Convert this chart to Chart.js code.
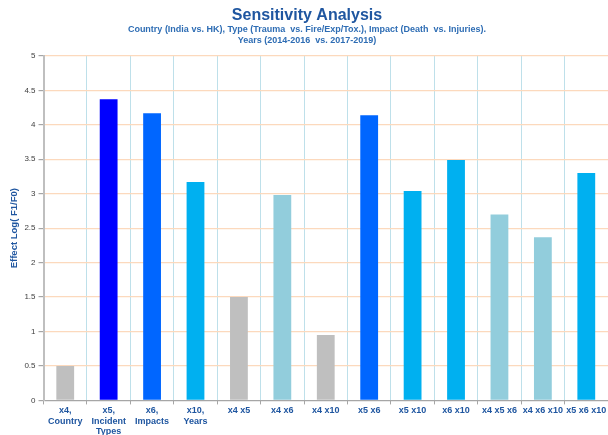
<!DOCTYPE html>
<html>
<head>
<meta charset="utf-8">
<script src="https://cdn.jsdelivr.net/npm/chart.js@4"></script>
<style>
  html, body { margin: 0; padding: 0; background: #fff; overflow: hidden; }
  #wrap { width: 608px; height: 435px; }
</style>
</head>
<body>
<div id="wrap"><canvas id="barchart" width="608" height="435"></canvas></div>
<script>
// categories (multi-line labels)
const categories = [
  ['x4,', 'Country'], ['x5,', 'Incident', 'Types'], ['x6,', 'Impacts'], ['x10,', 'Years'],
  'x4 x5', 'x4 x6', 'x4 x10', 'x5 x6', 'x5 x10', 'x6 x10', 'x4 x5 x6', 'x4 x6 x10', 'x5 x6 x10'
];
// effect values
const effects = [0.5, 4.37, 4.17, 3.17, 1.5, 2.98, 0.95, 4.14, 3.04, 3.49, 2.70, 2.37, 3.30];
const barColors = [
  '#BFBFBF', '#0000FF', '#0066FF', '#00B0F0',
  '#BFBFBF', '#92CDDC', '#BFBFBF', '#0066FF',
  '#00B0F0', '#00B0F0', '#92CDDC', '#92CDDC', '#00B0F0'
];

const ctx = document.getElementById('barchart').getContext('2d');

new Chart(ctx, {
  type: 'bar',
  data: {
    labels: categories,
    datasets: [{
      label: 'Effect',
      data: effects,
      backgroundColor: barColors,
      borderWidth: 0,
      categoryPercentage: 1,
      barPercentage: 0.41
    }]
  },
  options: {
    responsive: false,
    animation: false,
    layout: { padding: { left: 3, right: -3, top: 8, bottom: -3 } },
    plugins: {
      legend: { display: false },
      tooltip: { enabled: false },
      title: {
        display: true,
        text: 'Sensitivity Analysis',
        color: '#1F56A0',
        font: { family: 'Liberation Sans', size: 16, weight: 'bold', lineHeight: 1.0 },
        padding: { top: 0, bottom: 0 }
      },
      subtitle: {
        display: true,
        text: ['Country (India vs. HK), Type (Trauma  vs. Fire/Exp/Tox.), Impact (Death  vs. Injuries).',
               'Years (2014-2016  vs. 2017-2019)'],
        color: '#2E6DB4',
        font: { family: 'Liberation Sans', size: 9, weight: 'bold', lineHeight: 1.22 },
        padding: { top: 0, bottom: 10 }
      }
    },
    scales: {
      x: {
        offset: true,
        grid: {
          offset: true,
          color: '#BEE0EA',
          lineWidth: 1,
          drawTicks: true,
          tickLength: 4,
          tickColor: '#A6A6A6'
        },
        border: { color: '#A6A6A6', width: 1 },
        ticks: {
          color: '#1F56A0',
          font: { family: 'Liberation Sans', size: 9, weight: 'bold', lineHeight: 1.17 },
          padding: 1,
          maxRotation: 0,
          autoSkip: false
        }
      },
      y: {
        min: 0,
        max: 5,
        grid: {
          color: (c) => c.tick && c.tick.value === 0 ? '#A6A6A6' : '#FCD9BD',
          lineWidth: 1.2,
          tickLength: 5,
          tickColor: '#A6A6A6'
        },
        border: { color: '#BFBFBF', width: 2 },
        ticks: {
          stepSize: 0.5,
          color: '#404040',
          font: { family: 'Liberation Sans', size: 8 },
          padding: 3,
          callback: (v) => String(v)
        },
        title: {
          display: true,
          text: 'Effect Log( F1/F0)',
          color: '#1F56A0',
          font: { family: 'Liberation Sans', size: 9.5, weight: 'bold' },
          padding: { top: 6, bottom: 1 }
        }
      }
    }
  }
});
</script>
</body>
</html>
